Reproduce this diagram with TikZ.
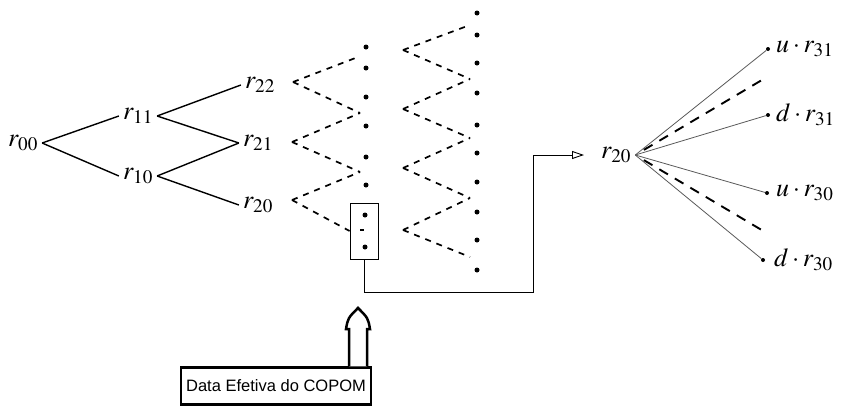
\documentclass[tikz,border=0pt]{standalone}
\usepackage{mathptmx}
\usepackage[no-math]{fontspec}
\newfontfamily\boxfont{Liberation Sans}
\usetikzlibrary{arrows.meta, positioning, calc}

\begin{document}
\begin{tikzpicture}[
    x=1pt, y=-1pt,
    lbl/.style={font=\fontsize{26}{30}\selectfont, inner sep=4pt},
    tree/.style={line width=1.4pt},
    dashline/.style={line width=1.7pt, dash pattern=on 6pt off 6pt},
    fanline/.style={line width=0.8pt, black!65},
    fandash/.style={line width=1.9pt, dash pattern=on 10pt off 8pt, shorten <=10pt},
    dot/.style={circle, fill, inner sep=0pt, minimum size=5pt},
    link/.style={line width=0.9pt, -{Triangle[open, length=12pt, width=8pt]}, shorten >=13pt},
    hollow/.style={line width=2.5pt, fill=white}
]
    \useasboundingbox (0,0) rectangle (851,418);

    % binomial tree up to period 2
    \node[lbl] (r00) at (23,143) {$r_{00}$};
    \node[lbl] (r11) at (138,116) {$r_{11}$};
    \node[lbl] (r10) at (138,176) {$r_{10}$};
    \node[lbl] (r22) at (260,85) {$r_{22}$};
    \node[lbl] (r21) at (258,143) {$r_{21}$};
    \node[lbl] (r20) at (258,205) {$r_{20}$};

    \draw[tree] (r00.east) -- (r11.west);
    \draw[tree] (r00.east) -- (r10.west);
    \draw[tree] (r11.east) -- (r22.west);
    \draw[tree] (r11.east) -- (r21.west);
    \draw[tree] (r10.east) -- (r21.west);
    \draw[tree] (r10.east) -- (r20.west);

    % window around the COPOM date
    \node[draw, line width=0.8pt, minimum width=28pt, minimum height=56pt] (copom) at (364,231) {};
    \node[dot] (cu) at (365,215) {};
    \node[fill, inner sep=0pt, minimum width=4pt, minimum height=2pt] (cm) at (362,230) {};
    \node[dot] (cd) at (365,247) {};

    % dashed steps, first column
    \coordinate (v22) at (293,82);
    \coordinate (v21) at (292,142);
    \coordinate (v20) at (292,200);
    \coordinate (p1) at (358,57);
    \coordinate (p2) at (360,113);
    \coordinate (p3) at (360,172);
    \draw[dashline] (v22) -- (p1) (v22) -- (p2);
    \draw[dashline] (v21) -- (p2) (v21) -- (p3);
    \draw[dashline] (v20) -- (p3) (v20) -- (copom.west);
    \foreach \y in {47,68,97,126,157,185}
        \node[dot] at (366,\y) {};

    % dashed steps, second column
    \foreach \y [count=\i from 0] in {25,79,138,198,257}
        \coordinate (q\i) at (470,\y);
    \foreach \y/\a/\b in {50/0/1, 109/1/2, 168/2/3, 230/3/4}
        \draw[dashline] (403,\y) -- (q\a) (403,\y) -- (q\b);
    \foreach \y in {13,35,63,93,125,153,182,212,240,270}
        \node[dot] at (477,\y) {};

    % zoom on r20
    \node[lbl, anchor=west] (r20b) at (597,155) {$r_{20}$};
    \coordinate (bend) at (533,292);
    \draw[link] (copom.south) |- (bend) |- (r20b.west);

    \node[dot, minimum size=4pt] (u31) at (768,49) {};
    \node[dot, minimum size=4pt] (d31) at (768,115) {};
    \node[dot, minimum size=4pt] (u30) at (767,193) {};
    \node[dot, minimum size=4pt] (d30) at (763,260) {};
    \coordinate (m31) at (767,77);
    \coordinate (m30) at (765,232);

    \draw[fanline] (r20b.east) -- (u31);
    \draw[fanline] (r20b.east) -- (d31);
    \draw[fanline] (r20b.east) -- (u30);
    \draw[fanline] (r20b.east) -- (d30);
    \draw[fandash] (r20b.east) -- (m31);
    \draw[fandash] (r20b.east) -- (m30);

    \node[lbl, anchor=west, inner sep=2pt] at (774,49) {$u\cdot r_{31}$};
    \node[lbl, anchor=west, inner sep=2pt] at (774,115) {$d\cdot r_{31}$};
    \node[lbl, anchor=west, inner sep=2pt] at (774,193) {$u\cdot r_{30}$};
    \node[lbl, anchor=west, inner sep=2pt] at (772,260) {$d\cdot r_{30}$};

    % date label
    \node[draw, line width=2.5pt, font=\boxfont\fontsize{16.5}{20}\selectfont, minimum width=190pt, minimum height=37pt] (datebox) at (276,386) {Data Efetiva do COPOM};
    \coordinate (tip) at (358,308);
    \coordinate (foot) at (tip |- datebox.north);
    \draw[hollow] ($(foot)+(-9,0)$) -- ($(tip)+(-9,21)$) -- ($(tip)+(-12,21)$)
        .. controls ($(tip)+(-10,10)$) .. (tip)
        .. controls ($(tip)+(10,10)$) .. ($(tip)+(12,21)$) -- ($(tip)+(9,21)$) -- ($(foot)+(9,0)$);
\end{tikzpicture}
\end{document}
